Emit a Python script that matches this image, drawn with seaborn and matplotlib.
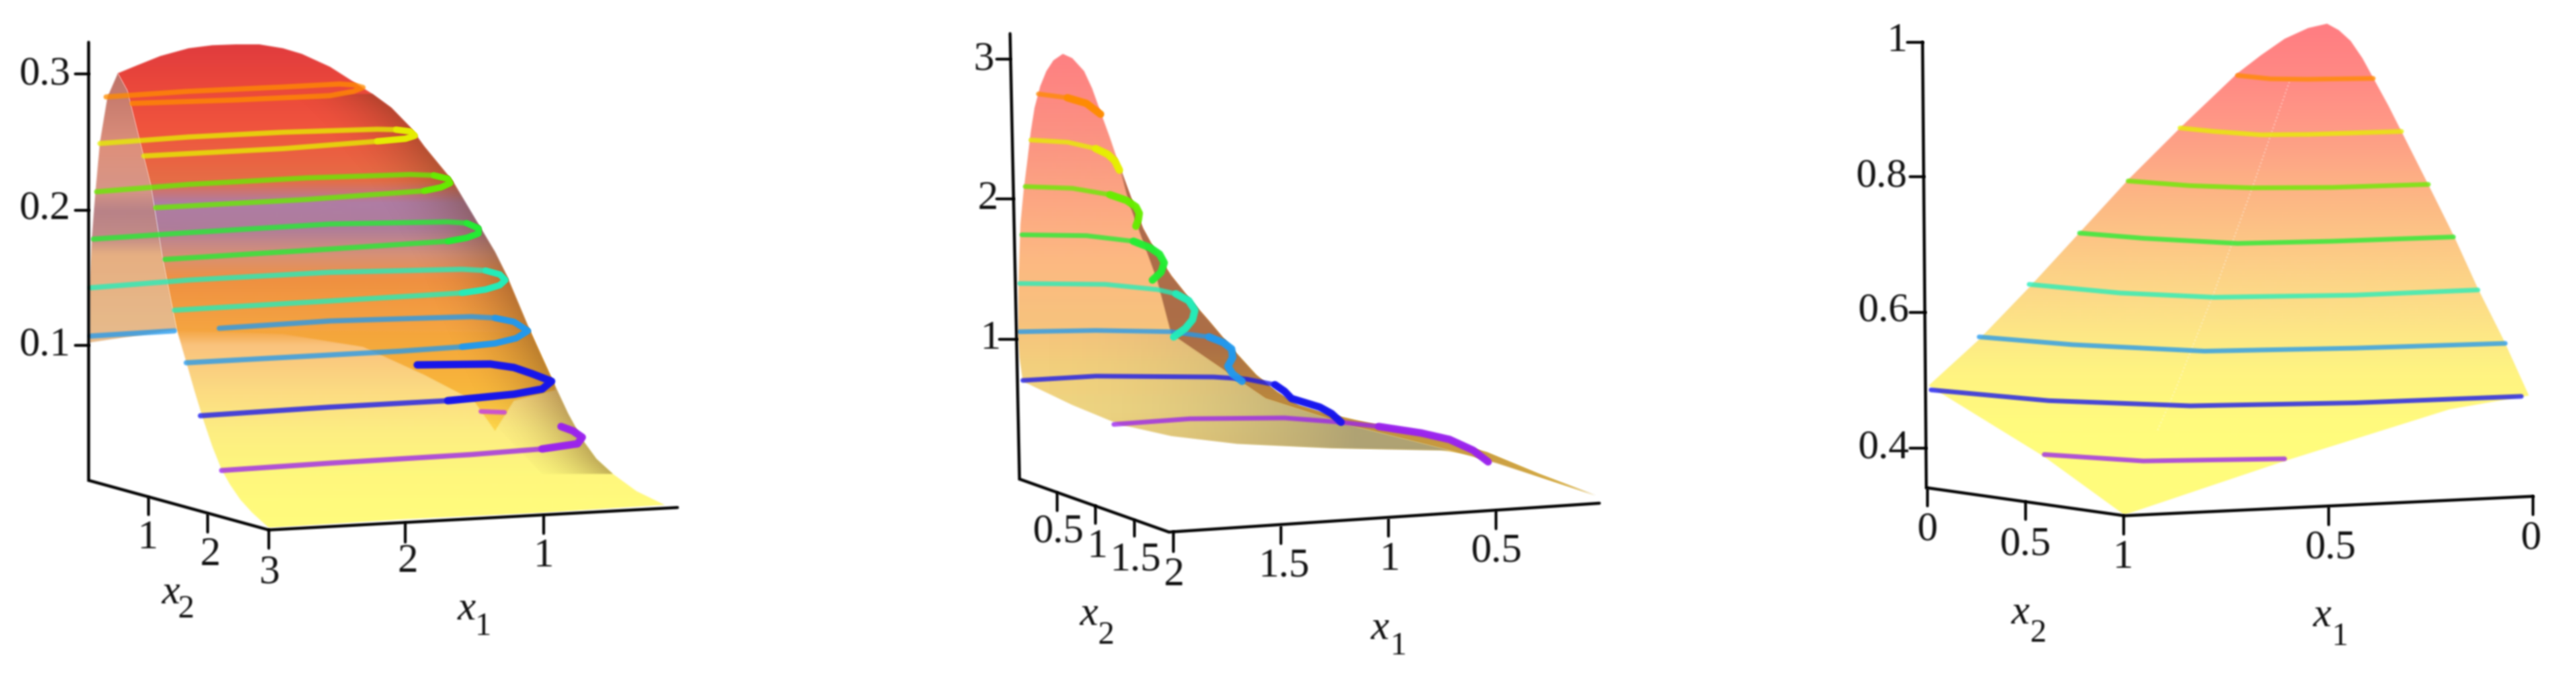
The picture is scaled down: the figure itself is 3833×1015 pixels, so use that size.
import numpy as np
import pandas as pd
import seaborn as sns
import matplotlib.pyplot as plt
from matplotlib.patches import Polygon

LEVELS = ['orange', 'yellow', 'lime', 'green', 'teal', 'blue', 'navy', 'purple']
LEVEL_COLORS = ['#ff8c00', '#e6f000', '#66ee00', '#22ee33', '#22eebb', '#2299ee', '#1414ee', '#9a22ee']

# panel 1
p1_back_x = [250, 228, 212, 202, 195, 190, 190, 375, 345, 320, 295, 270]
p1_back_y = [170, 225, 330, 450, 550, 660, 795, 765, 600, 430, 320, 210]
p1_back_stop = [170, 350, 440, 490, 550, 590, 790]
p1_back_rgb = [[190, 115, 105], [222, 145, 125], [215, 150, 135], [185, 130, 135], [195, 140, 135], [230, 175, 130], [232, 188, 140]]
p1_edge_x = [250, 290, 340, 400, 450, 500, 550, 600, 640, 700, 750, 790, 830, 870, 900, 930, 960, 990, 1020, 1050, 1075, 1100, 1125, 1150, 1175, 1205, 1235, 1265, 1300, 1350, 1410]
p1_edge_y = [170, 152, 130, 112, 105, 103, 103, 112, 125, 155, 190, 218, 250, 295, 340, 380, 420, 475, 530, 585, 640, 705, 770, 830, 890, 960, 1020, 1065, 1100, 1140, 1172]
p1_lower_x = [1150, 860, 570, 535, 510, 488, 470, 450, 430, 412, 395, 375, 345, 320, 295, 270]
p1_lower_y = [1190, 1205, 1225, 1190, 1160, 1125, 1090, 1035, 970, 905, 840, 765, 600, 430, 320, 210]
p1_main_stop = [103, 200, 300, 420, 470, 530, 590, 650, 765, 800, 900, 1000, 1100, 1230]
p1_main_rgb = [[225, 60, 62], [235, 72, 60], [240, 85, 62], [230, 110, 70], [175, 125, 165], [175, 125, 155], [215, 145, 120], [240, 145, 65], [245, 165, 65], [250, 195, 125], [252, 218, 130], [253, 238, 130], [255, 248, 125], [255, 253, 125]]
p1_dark_x = [375, 1125, 1175, 1178, 1090, 1050, 1005, 900, 770, 600]
p1_dark_y = [765, 770, 890, 905, 930, 1000, 930, 870, 805, 775]
p1_dark_stop = [765, 900, 1000]
p1_dark_rgb = [[245, 165, 60], [248, 182, 60], [253, 215, 75]]
p1_shade_x = [790, 830, 870, 900, 930, 960, 990, 1020, 1050, 1075, 1100, 1125, 1150, 1175, 1205, 1235, 1265, 1300, 1150, 800, 600]
p1_shade_y = [218, 250, 295, 340, 380, 420, 475, 530, 585, 640, 705, 770, 830, 890, 960, 1020, 1065, 1100, 1100, 700, 218]

p1_orange_x = [225, 400, 600, 720, 750, 770, 750, 700, 500, 280]
p1_orange_y = [225, 212, 202, 195, 197, 203, 212, 222, 232, 240]
p1_yellow_x = [212, 400, 600, 800, 840, 870, 880, 860, 800, 600, 305]
p1_yellow_y = [333, 318, 307, 300, 301, 305, 315, 322, 328, 345, 362]
p1_lime_x = [205, 400, 650, 870, 920, 950, 955, 935, 900, 650, 330]
p1_lime_y = [445, 428, 413, 405, 407, 415, 425, 435, 443, 463, 482]
p1_green_x = [198, 400, 700, 950, 990, 1015, 1015, 990, 950, 700, 350]
p1_green_y = [555, 540, 520, 515, 518, 530, 542, 552, 560, 578, 602]
p1_teal_x = [192, 400, 700, 980, 1030, 1060, 1072, 1060, 1030, 980, 800, 370]
p1_teal_y = [668, 650, 632, 625, 628, 637, 650, 662, 672, 680, 692, 720]
p1_blue_a_x = [192, 370]
p1_blue_a_y = [780, 768]
p1_blue_x = [465, 700, 1000, 1050, 1090, 1120, 1095, 1050, 980, 850, 395]
p1_blue_y = [762, 745, 735, 738, 747, 768, 785, 797, 805, 815, 842]
p1_navy_x = [885, 1040, 1090, 1130, 1170, 1150, 1090, 950, 700, 425]
p1_navy_y = [847, 845, 853, 868, 885, 903, 915, 930, 945, 965]
p1_purple_x = [1190, 1215, 1235, 1225, 1150, 1000, 700, 470]
p1_purple_y = [990, 1000, 1015, 1030, 1042, 1055, 1075, 1092]
p1_stub_x = [1020, 1070]
p1_stub_y = [955, 957]

p1_axes_x = [188, 188, 570, 1437]
p1_axes_y = [98, 1115, 1230, 1178]
p1_ticks = [(160, 172, 188, 172), (160, 488, 188, 488), (160, 802, 188, 802),
            (315, 1155, 315, 1195), (441, 1195, 441, 1235), (570, 1230, 570, 1272),
            (860, 1215, 860, 1258), (1153, 1197, 1153, 1238)]
p1_labels = [('0.3', 95, 172), ('0.2', 95, 484), ('0.1', 95, 802), ('1', 313, 1250), ('2', 446, 1288),
             ('3', 572, 1330), ('2', 865, 1305), ('1', 1153, 1292)]
p1_x2 = (362, 1378, 395, 1415)
p1_x1 = (990, 1415, 1025, 1455)

# panel 2
p2_x = [330, 350, 375, 392, 410, 430, 450, 475, 500, 530, 560, 600, 640, 690, 740, 785, 830, 890, 950, 1100, 1230, 1340, 1460, 1340, 1240, 1130, 900, 700, 560, 450, 350, 245, 238, 235, 236, 240, 247, 255, 262, 270, 282, 295, 310]
p2_y = [125, 135, 165, 205, 260, 320, 385, 460, 530, 590, 640, 695, 745, 810, 870, 910, 940, 960, 975, 1010, 1050, 1100, 1150, 1105, 1062, 1045, 1040, 1030, 1012, 985, 940, 885, 830, 780, 650, 520, 440, 370, 305, 250, 200, 165, 140]
p2_stop = [125, 300, 450, 600, 750, 850, 950, 1050]
p2_rgb = [[255, 128, 130], [252, 145, 130], [252, 165, 130], [253, 185, 130], [248, 195, 125], [243, 208, 125], [240, 214, 130], [235, 205, 120]]
p2_fold_x = [450, 475, 500, 530, 560, 600, 640, 690, 740, 785, 830, 890, 950, 1100, 1230, 1340, 1460, 1250, 1150, 930, 760, 700, 560, 530, 470]
p2_fold_y = [385, 460, 530, 590, 640, 695, 745, 810, 870, 910, 940, 960, 975, 1010, 1050, 1100, 1150, 1075, 1045, 985, 925, 880, 775, 650, 470]
p2_fold_stop = [385, 800, 950, 1150]
p2_fold_rgb = [[175, 105, 80], [172, 112, 70], [190, 140, 60], [215, 175, 70]]
p2_tan_x = [560, 700, 760, 930, 1150, 1130, 900, 700, 560, 450, 350, 245, 238]
p2_tan_y = [775, 880, 925, 985, 1045, 1045, 1040, 1030, 1012, 985, 940, 885, 775]
p2_tan_edge_x = [950, 950]
p2_tan_edge_y = [0, 1583]

p2_orange_x = [278, 340, 380, 410]
p2_orange_y = [218, 227, 240, 265]
p2_yellow_x = [262, 340, 400, 425, 440, 450]
p2_yellow_y = [325, 330, 345, 358, 373, 395]
p2_lime_x = [250, 350, 430, 465, 485, 492, 490, 485]
p2_lime_y = [433, 437, 452, 465, 480, 495, 510, 525]
p2_green_x = [243, 380, 480, 515, 535, 545, 538, 520]
p2_green_y = [545, 547, 560, 575, 590, 610, 632, 650]
p2_teal_x = [238, 420, 530, 570, 597, 610, 605, 590, 565]
p2_teal_y = [658, 660, 672, 682, 698, 720, 742, 762, 782]
p2_blue_x = [238, 400, 560, 640, 670, 688, 690, 680, 690, 710]
p2_blue_y = [770, 767, 770, 782, 795, 810, 830, 850, 868, 885]
p2_navy_x = [245, 400, 650, 720, 780, 800, 815, 875, 900, 920]
p2_navy_y = [883, 873, 875, 880, 893, 908, 925, 945, 960, 980]
p2_purple_x = [438, 600, 800, 920, 1000, 1090, 1150, 1200, 1232]
p2_purple_y = [985, 972, 970, 980, 990, 1005, 1020, 1045, 1072]

p2_axes_x = [218, 238, 555, 1468]
p2_axes_y = [78, 1112, 1235, 1168]
p2_ticks = [(190, 138, 218, 138), (190, 462, 225, 462), (195, 787, 232, 787),
            (318, 1145, 318, 1185), (399, 1175, 399, 1215), (482, 1208, 482, 1245), (565, 1235, 565, 1280),
            (792, 1222, 792, 1262), (1020, 1205, 1020, 1245), (1248, 1187, 1248, 1228)]
p2_labels = [('3', 163, 138), ('2', 170, 462), ('1', 177, 787), ('0.5', 320, 1235), ('1', 403, 1270), ('1.5', 485, 1300),
             ('2', 565, 1335), ('1.5', 800, 1315), ('1', 1023, 1300), ('0.5', 1250, 1280)]
p2_x2 = (385, 1428, 422, 1475)
p2_x1 = (1002, 1460, 1042, 1500)

# panel 3
p3_x = [1040, 1065, 1090, 1115, 1140, 1170, 1200, 1230, 1260, 1310, 1360, 1415, 1468, 1300, 950, 610, 440, 195, 300, 410, 515, 620, 730, 850, 900, 950, 1000]
p3_y = [55, 70, 95, 135, 185, 245, 310, 375, 440, 550, 670, 790, 918, 950, 1070, 1195, 1060, 895, 790, 665, 540, 415, 295, 170, 128, 90, 65]
p3_stop = [55, 180, 300, 450, 600, 750, 850, 1000, 1195]
p3_rgb = [[255, 125, 130], [255, 138, 132], [255, 155, 135], [253, 182, 132], [253, 205, 135], [253, 228, 135], [255, 243, 130], [255, 252, 125], [255, 253, 125]]
p3_seam_x = [960, 880, 800, 720, 680]
p3_seam_y = [190, 440, 680, 900, 1000]

p3_orange_x = [850, 920, 1000, 1138]
p3_orange_y = [175, 183, 184, 182]
p3_yellow_x = [728, 800, 900, 1000, 1198]
p3_yellow_y = [297, 305, 313, 312, 305]
p3_lime_x = [618, 750, 880, 1050, 1255]
p3_lime_y = [420, 431, 436, 435, 428]
p3_green_x = [515, 650, 850, 1050, 1308]
p3_green_y = [541, 553, 565, 560, 550]
p3_teal_x = [408, 600, 800, 1100, 1360]
p3_teal_y = [660, 680, 690, 685, 673]
p3_blue_x = [302, 500, 780, 1100, 1418]
p3_blue_y = [782, 800, 815, 808, 797]
p3_navy_x = [200, 450, 750, 1100, 1452]
p3_navy_y = [905, 930, 942, 935, 920]
p3_purple_x = [440, 650, 950]
p3_purple_y = [1055, 1070, 1065]

p3_axes_x = [182, 190, 610, 1477]
p3_axes_y = [98, 1132, 1197, 1152]
p3_ticks = [(150, 98, 182, 98), (155, 410, 185, 410), (155, 725, 188, 725), (155, 1040, 190, 1040),
            (193, 1135, 193, 1175), (400, 1165, 400, 1205), (608, 1197, 608, 1240),
            (1043, 1178, 1043, 1218), (1477, 1152, 1477, 1195)]
p3_labels = [('1', 128, 95), ('0.8', 95, 410), ('0.6', 100, 722), ('0.4', 100, 1040), ('0', 193, 1230), ('0.5', 400, 1265),
             ('1', 607, 1295), ('0.5', 1047, 1272), ('0', 1473, 1250)]
p3_x2 = (390, 1425, 428, 1470)
p3_x1 = (1030, 1430, 1068, 1478)

CROP_W = 1568
CROP_H = 1583
FONT = 'Liberation Serif'


def soften(src, dpi):
    # the source picture is an upscaled bitmap, so every mark gets a small blur
    pad = 5
    img = np.pad(src, [(pad, pad), (pad, pad), (0, 0)], 'constant')
    rgb = img[:, :, :3] * img[:, :, 3:4]
    out = np.concatenate([rgb, img[:, :, 3:4]], axis=2)
    kernel = np.array([1, 2, 3, 2, 1]) / 9
    for axis in (0, 1):
        out = sum(np.roll(out, i - 2, axis=axis) * k for i, k in enumerate(kernel))
    alpha = np.maximum(out[:, :, 3:4], 1e-4)
    res = np.concatenate([np.clip(out[:, :, :3] / alpha, 0, 1), out[:, :, 3:4]], axis=2)
    return res, -pad, -pad


def gradient(ax, xs, ys, stops, rgb):
    rows = np.arange(CROP_H)
    rgb = np.array(rgb) / 255
    colors = np.stack([np.interp(rows, stops, rgb[:, i]) for i in range(3)], axis=1)[:, None, :]
    poly = Polygon(np.column_stack([xs, ys]), closed=True, transform=ax.transData, fc='none', ec='none')
    ax.add_patch(poly)
    ax.imshow(colors, extent=(0, CROP_W, CROP_H, 0), aspect='auto', clip_path=poly, zorder=1)


def edge_shade(ax, edge_x, edge_y, poly_x, poly_y, width, strength, color):
    # tints a surface more and more towards its right silhouette
    rows = np.arange(0, CROP_H, 2)
    cols = np.arange(0, CROP_W, 2)
    edge = np.interp(rows, edge_y, edge_x)
    depth = np.clip(1 - (edge[:, None] - cols[None, :]) / width, 0, 1)
    image = np.zeros((len(rows), len(cols), 4))
    image[:, :, :3] = np.array(color) / 255
    image[:, :, 3] = strength * depth ** 2
    poly = Polygon(np.column_stack([poly_x, poly_y]), closed=True, transform=ax.transData, fc='none', ec='none')
    ax.add_patch(poly)
    ax.imshow(image, extent=(0, CROP_W, CROP_H, 0), aspect='auto', clip_path=poly, zorder=1.5)


def contours(ax, curves, width, heavy=None):
    rows = []
    for n, (name, xs, ys, start, stop) in enumerate(curves):
        if heavy is None:
            rows.append(pd.DataFrame({'x': xs, 'y': ys, 'level': name, 'part': n}))
        else:
            rows.append(pd.DataFrame({'x': xs[start:stop], 'y': ys[start:stop], 'level': name, 'part': n}))
    df = pd.concat(rows)
    sns.lineplot(data=df, x='x', y='y', hue='level', units='part', estimator=None, sort=False,
                 palette=dict(zip(LEVELS, LEVEL_COLORS)), linewidth=heavy or width, alpha=0.92 if heavy else 0.78,
                 legend=False, ax=ax, zorder=3)


def frame(ax, axes_x, axes_y, ticks, labels, x2, x1):
    ax.plot(axes_x, axes_y, color='black', lw=3.2, zorder=4, solid_joinstyle='miter')
    for x0, y0, x_end, y_end in ticks:
        ax.plot([x0, x_end], [y0, y_end], color='black', lw=3, zorder=4)
    for text, x, y in labels:
        ax.text(x, y, text, ha='center', va='center', fontsize=44, family=FONT, color='#111111')
    for name, (xa, ya, xb, yb) in (('2', x2), ('1', x1)):
        ax.text(xa, ya, 'x', ha='center', va='center', fontsize=44, family=FONT, style='italic', color='#111111')
        ax.text(xb, yb, name, ha='center', va='center', fontsize=35, family=FONT, color='#111111')


sns.set_theme(style='white')
plt.rcParams['font.family'] = [FONT, 'DejaVu Sans']

fig = plt.figure(figsize=(38.33, 10.15), dpi=100)
axs = []
for left in (0, 1350, 2733):
    ax = fig.add_axes([left / 3833, 0, 1100 / 3833, 1])
    axs.append(ax)

ax = axs[0]
p1_main_x = p1_edge_x + p1_lower_x
p1_main_y = p1_edge_y + p1_lower_y
gradient(ax, p1_back_x, p1_back_y, p1_back_stop, p1_back_rgb)
gradient(ax, p1_main_x, p1_main_y, p1_main_stop, p1_main_rgb)
gradient(ax, p1_dark_x, p1_dark_y, p1_dark_stop, p1_dark_rgb)
edge_shade(ax, p1_edge_x[6:], p1_edge_y[6:], p1_shade_x, p1_shade_y, 200, 0.38, (95, 55, 25))
p1_curves = [('orange', p1_orange_x, p1_orange_y, 0, 0), ('yellow', p1_yellow_x, p1_yellow_y, 4, 9),
             ('lime', p1_lime_x, p1_lime_y, 4, 9), ('green', p1_green_x, p1_green_y, 4, 9),
             ('teal', p1_teal_x, p1_teal_y, 4, 10), ('blue', p1_blue_a_x, p1_blue_a_y, 0, 0),
             ('blue', p1_blue_x, p1_blue_y, 3, 9)]
p1_thick = [('navy', p1_navy_x, p1_navy_y, 0, 8), ('purple', p1_purple_x, p1_purple_y, 0, 5)]
contours(ax, p1_curves + p1_thick, 5.5)
contours(ax, p1_curves, 5.5, heavy=6.5)
contours(ax, p1_thick, 5.5, heavy=8)
ax.plot(p1_stub_x, p1_stub_y, color='#cc55cc', lw=5, zorder=3)
frame(ax, p1_axes_x, p1_axes_y, p1_ticks, p1_labels, p1_x2, p1_x1)

ax = axs[1]
gradient(ax, p2_x, p2_y, p2_stop, p2_rgb)
edge_shade(ax, p2_tan_edge_x, p2_tan_edge_y, p2_tan_x, p2_tan_y, 700, 0.85, (165, 155, 115))
gradient(ax, p2_fold_x, p2_fold_y, p2_fold_stop, p2_fold_rgb)
p2_curves = [('orange', p2_orange_x, p2_orange_y, 1, 4), ('yellow', p2_yellow_x, p2_yellow_y, 2, 6),
             ('lime', p2_lime_x, p2_lime_y, 2, 8), ('green', p2_green_x, p2_green_y, 2, 8),
             ('teal', p2_teal_x, p2_teal_y, 3, 9), ('blue', p2_blue_x, p2_blue_y, 3, 10),
             ('navy', p2_navy_x, p2_navy_y, 4, 10), ('purple', p2_purple_x, p2_purple_y, 4, 9)]
contours(ax, p2_curves, 5)
contours(ax, p2_curves, 5, heavy=8)
frame(ax, p2_axes_x, p2_axes_y, p2_ticks, p2_labels, p2_x2, p2_x1)

ax = axs[2]
gradient(ax, p3_x, p3_y, p3_stop, p3_rgb)
ax.plot(p3_seam_x, p3_seam_y, color='white', lw=1.5, ls=':', alpha=0.5, zorder=2)
contours(ax, [('orange', p3_orange_x, p3_orange_y, 0, 0), ('yellow', p3_yellow_x, p3_yellow_y, 0, 0),
              ('lime', p3_lime_x, p3_lime_y, 0, 0), ('green', p3_green_x, p3_green_y, 0, 0),
              ('teal', p3_teal_x, p3_teal_y, 0, 0), ('blue', p3_blue_x, p3_blue_y, 0, 0),
              ('navy', p3_navy_x, p3_navy_y, 0, 0), ('purple', p3_purple_x, p3_purple_y, 0, 0)], 5)
frame(ax, p3_axes_x, p3_axes_y, p3_ticks, p3_labels, p3_x2, p3_x1)

for ax in axs:
    ax.set_xlim(0, CROP_W)
    ax.set_ylim(CROP_H, 0)
    ax.axis('off')
    for art in ax.images + ax.lines + ax.texts:
        art.set_agg_filter(soften)

fig.savefig('out.png', dpi=100)
